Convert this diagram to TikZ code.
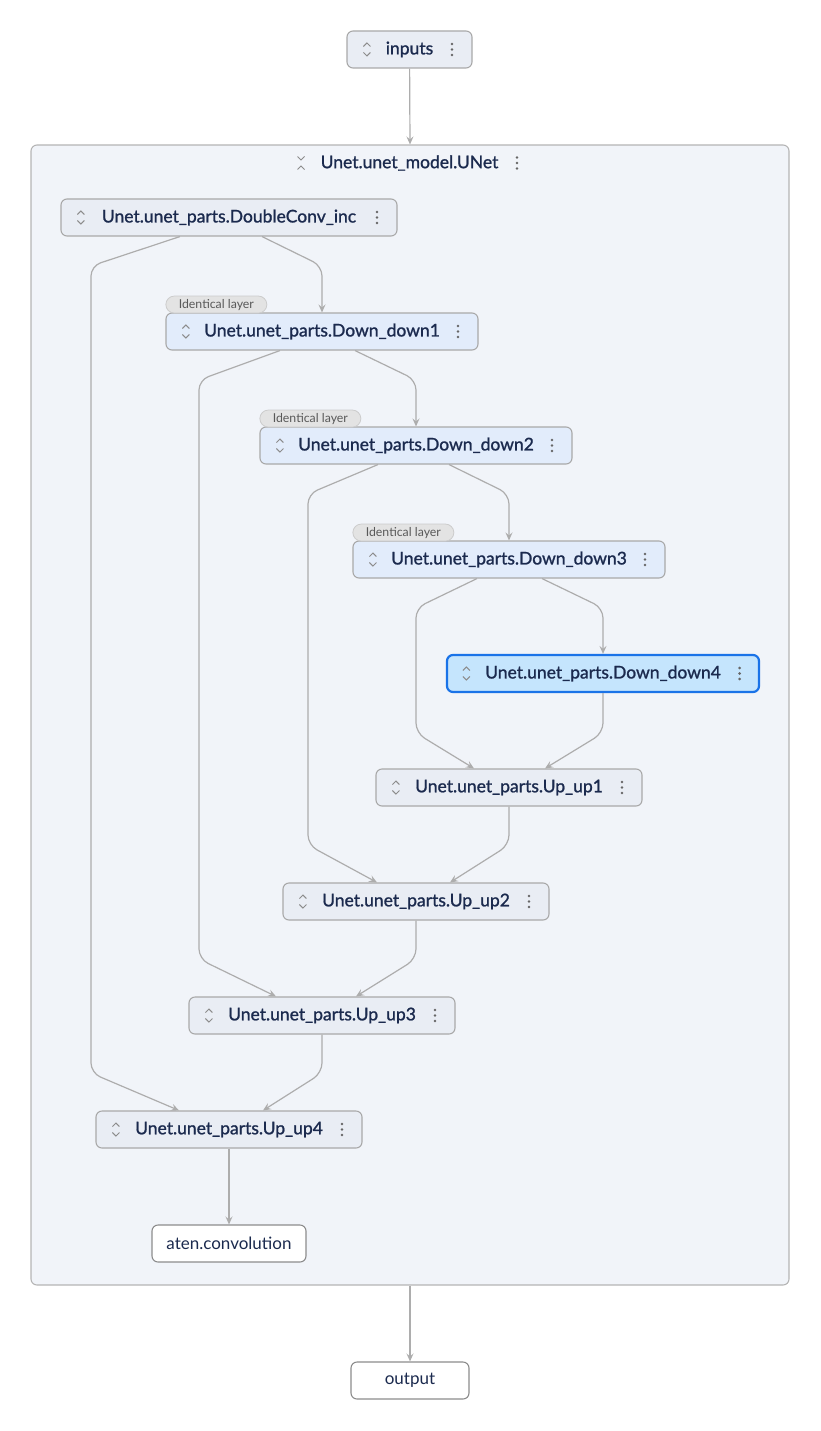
\documentclass[tikz,border=0pt]{standalone}
\usepackage{fontspec}
\setmainfont{Lato}
\newfontfamily\modfont[FakeBold=1.2]{Lato}
\usetikzlibrary{arrows.meta,positioning}

\definecolor{edgegray}{HTML}{ADADAD}
\definecolor{boxline}{HTML}{A9A9A9}
\definecolor{boxfill}{HTML}{E9EDF4}
\definecolor{downfill}{HTML}{E2ECFB}
\definecolor{selfill}{HTML}{C5E5FD}
\definecolor{selline}{HTML}{1A73E8}
\definecolor{groupfill}{HTML}{F1F4F9}
\definecolor{groupline}{HTML}{B5B5B5}
\definecolor{navy}{HTML}{1B2A4E}
\definecolor{icongray}{HTML}{8C8C8C}

\begin{document}
\begin{tikzpicture}[
		x=1pt, y=-1pt,
		box/.style={draw=boxline, fill=boxfill, rounded corners=6pt, line width=1.1pt,
			minimum height=37pt, inner sep=0pt, text=navy, font=\modfont\fontsize{17.5}{20}\selectfont},
		down/.style={box, fill=downfill},
		sel/.style={box, fill=selfill, draw=selline, line width=2.2pt},
		op/.style={draw=gray!90, fill=white, rounded corners=6pt, line width=1.1pt,
			minimum height=37pt, inner sep=0pt, text=navy, font=\fontsize{17}{20}\selectfont},
		group/.style={draw=groupline, fill=groupfill, rounded corners=6pt, line width=1.1pt, inner sep=0pt},
		tag/.style={draw=gray!40, fill=gray!22, rounded corners=8.5pt, line width=0.8pt,
			minimum width=101pt, minimum height=17pt, inner sep=0pt, text=black!65,
			font=\fontsize{12.3}{14}\selectfont},
		link/.style={draw=edgegray, line width=1.2pt, rounded corners=10pt},
		arr/.style={link, -{Stealth[length=8pt, width=7pt, inset=3pt]}},
		expand/.pic={\draw[icongray, line width=1pt] (-3.5,-3) -- (0,-6.5) -- (3.5,-3);
			\draw[icongray, line width=1pt] (-3.5,3) -- (0,6.5) -- (3.5,3);},
		collapse/.pic={\draw[icongray, line width=1pt] (-3.5,-6.5) -- (0,-3) -- (3.5,-6.5);
			\draw[icongray, line width=1pt] (-3.5,6.5) -- (0,3) -- (3.5,6.5);},
		menu/.pic={\foreach \d in {-5.5,0,5.5} \fill[black!60] (0,\d) circle (1.4pt);}
		]
	
	% page
	\useasboundingbox (0,0) rectangle (820,1431);
	
	% outer nodes
	\node[box, minimum width=125pt] (inputs) at (409.5,49.5) {inputs};
	\node[group, minimum width=758pt, minimum height=1140pt] (unet) at (410,715) {};
	\node[op, minimum width=118pt] (output) at (410,1380.5) {output};
	
	% title of the group
	\node[text=navy, font=\modfont\fontsize{17.5}{20}\selectfont] (title) at (409.5,163) {Unet.unet\_model.UNet};
	\pic at (301,163) {collapse};
	\pic at (517,163) {menu};
	
	% modules
	\node[box, minimum width=336pt] (inc) at (229,217.5) {Unet.unet\_parts.DoubleConv\_inc};
	\node[down, minimum width=312pt] (d1) at (322,331.5) {Unet.unet\_parts.Down\_down1};
	\node[down, minimum width=312pt] (d2) at (416,445.5) {Unet.unet\_parts.Down\_down2};
	\node[down, minimum width=312pt] (d3) at (509,559.5) {Unet.unet\_parts.Down\_down3};
	\node[sel, minimum width=312pt] (d4) at (603,673.5) {Unet.unet\_parts.Down\_down4};
	\node[box, minimum width=266pt] (up1) at (509,787.5) {Unet.unet\_parts.Up\_up1};
	\node[box, minimum width=266pt] (up2) at (416,901.5) {Unet.unet\_parts.Up\_up2};
	\node[box, minimum width=266pt] (up3) at (322,1015.5) {Unet.unet\_parts.Up\_up3};
	\node[box, minimum width=266pt] (up4) at (229,1129.5) {Unet.unet\_parts.Up\_up4};
	\node[op, minimum width=154pt] (conv) at (229,1243.5) {aten.convolution};
	
	% tags
	\node[tag, above right=-1pt and 0pt of d1.north west] (t1) {Identical layer};
	\node[tag, above right=-1pt and 0pt of d2.north west] (t2) {Identical layer};
	\node[tag, above right=-1pt and 0pt of d3.north west] (t3) {Identical layer};
	
	% icons
	\foreach \n in {inputs,inc,d1,d2,d3,d4,up1,up2,up3,up4} {
		\pic at ([xshift=20.5pt]\n.west) {expand};
		\pic at ([xshift=-20.5pt]\n.east) {menu};
	}
	
	% edges in and out of the group
	\draw[arr] (inputs) -- (unet.north);
	\draw[arr] (unet.south) -- (output);
	
	% going down
	\draw[arr] ([xshift=33pt]inc.south) -- (322,266) -- (d1.north);
	\draw[arr] ([xshift=33pt]d1.south) -- (416,380) -- (d2.north);
	\draw[arr] ([xshift=33pt]d2.south) -- (509,494) -- (d3.north);
	\draw[arr] ([xshift=33pt]d3.south) -- (603,608) -- (d4.north);
	
	% skips
	\draw[arr] ([xshift=-49pt]inc.south) -- (91,266) -- (91,1073) -- ([xshift=-50pt]up4.north);
	\draw[arr] ([xshift=-42pt]d1.south) -- (199,380) -- (199,959) -- ([xshift=-46pt]up3.north);
	\draw[arr] ([xshift=-38pt]d2.south) -- (308,494) -- (308,845) -- ([xshift=-39pt]up2.north);
	\draw[arr] ([xshift=-32pt]d3.south) -- (416,608) -- (416,733) -- ([xshift=-35pt]up1.north);
	
	% going up
	\draw[arr] (d4.south) -- (603,733) -- ([xshift=36pt]up1.north);
	\draw[arr] (up1.south) -- (509,845) -- ([xshift=34pt]up2.north);
	\draw[arr] (up2.south) -- (416,959) -- ([xshift=34pt]up3.north);
	\draw[arr] (up3.south) -- (322,1073) -- ([xshift=34pt]up4.north);
	\draw[arr] (up4) -- (conv);
	
\end{tikzpicture}
\end{document}
